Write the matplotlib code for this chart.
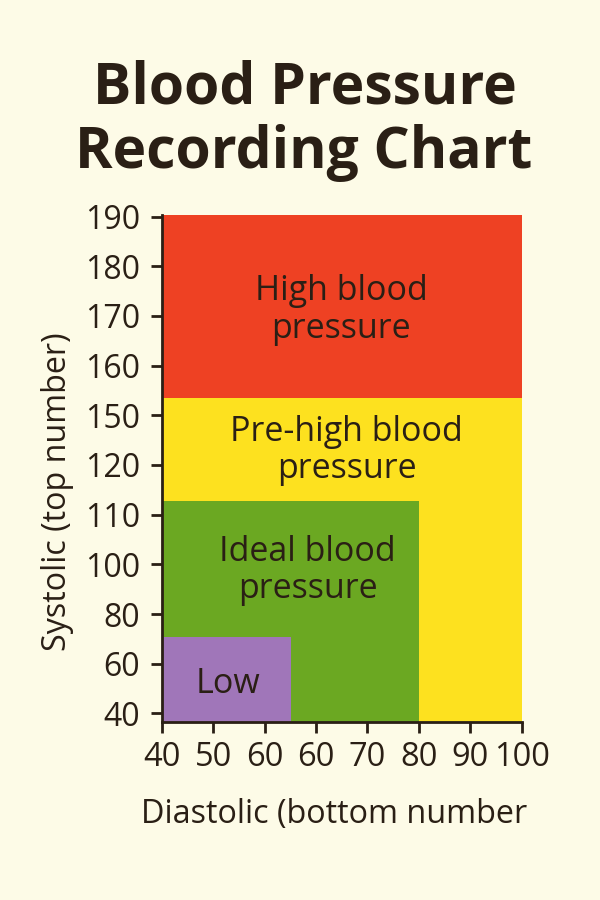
import matplotlib.pyplot as plt
from matplotlib.patches import Rectangle

plt.rcParams['font.family'] = ['Open Sans', 'DejaVu Sans']

# tick labels (equally spaced, as printed on the chart)
x_labels = ['40', '50', '60', '60', '70', '80', '90', '100']
y_labels = ['40', '60', '80', '100', '110', '120', '150', '160', '170', '180', '190']

# zones, in tick-position units: (x0, x1, y0, y1)
zone_names = ['High blood\npressure', 'Pre-high blood\npressure', 'Ideal blood\npressure', 'Low']
zone_x0 = [0, 0, 0, 0]
zone_x1 = [7, 7, 5, 2.52]
zone_y0 = [6.34, -0.17, -0.17, -0.17]
zone_y1 = [10.03, 6.34, 4.27, 1.54]
zone_colors = ['#EE4123', '#FDE11F', '#6BA822', '#A076B9']
# last-line baseline of each zone label
label_x = [3.485, 3.6, 2.84, 1.29]
label_y = [7.56, 4.73, 2.32, 0.40]

ink = '#2A1F15'
bg = '#FDFBE7'

fig = plt.figure(figsize=(6, 9), dpi=100, facecolor=bg)
ax = fig.add_axes([0.2695, 0.198, 0.6, 0.563])
ax.set_facecolor(bg)

for name, x0, x1, y0, y1, c, lx, ly in zip(zone_names, zone_x0, zone_x1, zone_y0,
                                           zone_y1, zone_colors, label_x, label_y):
    ax.add_patch(Rectangle((x0, y0), x1 - x0, y1 - y0, facecolor=c, edgecolor='none'))
    ax.text(lx, ly, name, ha='center', va='baseline', fontsize=24.5, color=ink,
            linespacing=1.13)

ax.set_xlim(0, 7)
ax.set_ylim(-0.17, 10.03)
ax.set_xticks(range(len(x_labels)))
ax.set_xticklabels(x_labels)
ax.set_yticks(range(len(y_labels)))
ax.set_yticklabels(y_labels)

for s in ['top', 'right']:
    ax.spines[s].set_visible(False)
for s in ['left', 'bottom']:
    ax.spines[s].set_color(ink)
    ax.spines[s].set_linewidth(2.0)
ax.tick_params(axis='both', colors=ink, width=2.0, length=8)
ax.tick_params(axis='y', labelsize=23, pad=7.5)
ax.tick_params(axis='x', labelsize=23.5, pad=6)

ax.set_xlabel('Diastolic (bottom number', fontsize=23.3, color=ink)
ax.xaxis.label.set_va('baseline')
ax.xaxis.set_label_coords(0.479, -0.2005)
ax.set_ylabel('Systolic (top number)', fontsize=23.2, color=ink)
ax.yaxis.label.set_va('baseline')
ax.yaxis.set_label_coords(-0.266, 0.454)

fig.text(0.5075, 1 - 104 / 900, 'Blood Pressure', ha='center', va='baseline',
         fontsize=41, fontweight='bold', color=ink)
fig.text(0.506, 1 - 168.3 / 900, 'Recording Chart', ha='center', va='baseline',
         fontsize=41, fontweight='bold', color=ink)

plt.savefig('out.png', dpi=100, facecolor=bg)
